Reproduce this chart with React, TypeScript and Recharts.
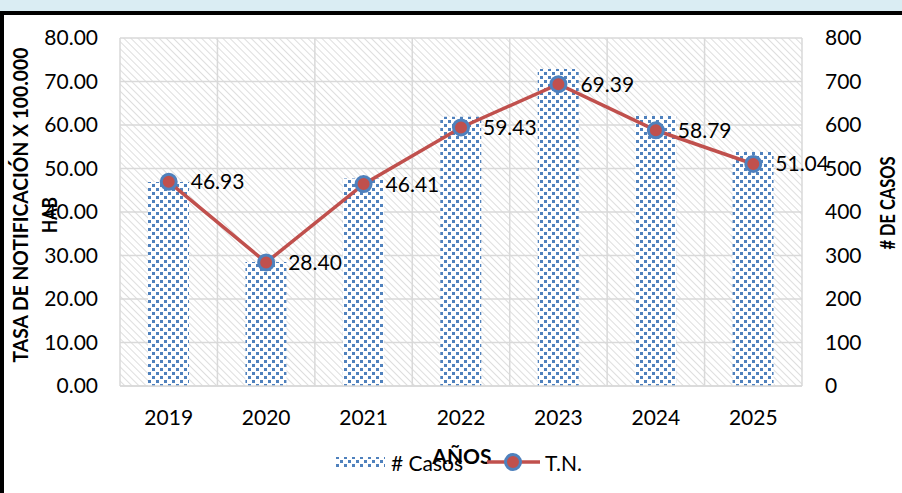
import React from 'react';
import {
  ComposedChart,
  Bar,
  Line,
  XAxis,
  YAxis,
  CartesianGrid,
  LabelList,
} from 'recharts';

const years = ['2019', '2020', '2021', '2022', '2023', '2024', '2025'];
const casos = [469, 285, 477, 619, 729, 621, 538];
const tasa = [46.93, 28.4, 46.41, 59.43, 69.39, 58.79, 51.04];
const leftTicks = [0, 10, 20, 30, 40, 50, 60, 70, 80];
const rightTicks = [0, 100, 200, 300, 400, 500, 600, 700, 800];

const data = years.map((year, i) => ({ year, casos: casos[i], tasa: tasa[i] }));

const FONT = 'Lato, "Open Sans", sans-serif';
const BLUE = '#4f81bd';
const RED = '#c0504d';
const GRID = '#d9d9d9';

const tickStyle = { fill: '#000', fontSize: 21, fontFamily: FONT };

function Marker(props: any) {
  const { cx, cy } = props;
  if (cx == null || cy == null) return null;
  return <circle cx={cx} cy={cy} r={7.5} fill={RED} stroke={BLUE} strokeWidth={3} />;
}

function LegendBox() {
  return (
    <g>
      <rect x={335} y={457} width={50} height={10} fill="url(#dots)" />
      <text x={391} y={462} dominantBaseline="central" fontSize={21} fontFamily={FONT} fill="#000">
        # Casos
      </text>
      <line x1={487} y1={462} x2={540} y2={462} stroke={RED} strokeWidth={3.5} />
      <circle cx={513} cy={462} r={7.5} fill={RED} stroke={BLUE} strokeWidth={3} />
      <text x={545} y={462} dominantBaseline="central" fontSize={21} fontFamily={FONT} fill="#000">
        T.N.
      </text>
    </g>
  );
}

export default function App() {
  return (
    <div
      style={{
        position: 'absolute',
        left: 0,
        top: 0,
        width: 902,
        height: 493,
        background: '#daedf3',
        overflow: 'hidden',
        fontFamily: FONT,
      }}
    >
      <div
        style={{
          position: 'absolute',
          left: 0,
          top: 11,
          width: 902,
          height: 482,
          background: '#fff',
          borderTop: '4px solid #000',
          borderLeft: '4px solid #000',
          boxSizing: 'border-box',
        }}
      />
      <div style={{ position: 'absolute', left: 0, top: 0 }}>
        <ComposedChart
          width={902}
          height={493}
          data={data}
          margin={{ top: 38, right: 40, bottom: 77, left: 60 }}
        >
          <defs>
            <pattern id="hatch" width={5} height={5} patternUnits="userSpaceOnUse" patternTransform="rotate(-45)">
              <rect width={5} height={5} fill="#fff" />
              <line x1={0} y1={0} x2={0} y2={5} stroke="#d6d6d6" strokeWidth={1.6} />
            </pattern>
            <pattern id="dots" width={8} height={8} patternUnits="userSpaceOnUse">
              <rect width={8} height={8} fill="#fff" />
              <rect x={0} y={0} width={3} height={3} fill={BLUE} />
              <rect x={4} y={4} width={3} height={3} fill={BLUE} />
            </pattern>
          </defs>
          <CartesianGrid
            yAxisId="left"
            fill="url(#hatch)"
            stroke={GRID}
            strokeWidth={1.5}
            verticalCoordinatesGenerator={({ offset }: any) =>
              years.map((_, i) => offset.left + (i * offset.width) / years.length).concat(offset.left + offset.width)
            }
          />
          <XAxis
            dataKey="year"
            tick={tickStyle}
            tickLine={false}
            axisLine={{ stroke: GRID, strokeWidth: 1.5 }}
            tickMargin={18}
            height={30}
          />
          <YAxis
            yAxisId="left"
            domain={[0, 80]}
            ticks={leftTicks}
            tickFormatter={(v: number) => v.toFixed(2)}
            tick={tickStyle}
            tickLine={false}
            axisLine={false}
            tickMargin={16}
            width={60}
          />
          <YAxis
            yAxisId="right"
            orientation="right"
            domain={[0, 800]}
            ticks={rightTicks}
            tick={tickStyle}
            tickLine={false}
            axisLine={false}
            tickMargin={17}
            width={60}
          />
          <Bar yAxisId="right" dataKey="casos" name="# Casos" fill="url(#dots)" barSize={41} isAnimationActive={false} />
          <Line
            yAxisId="left"
            dataKey="tasa"
            name="T.N."
            type="linear"
            stroke={RED}
            strokeWidth={3.5}
            dot={<Marker />}
            activeDot={false}
            isAnimationActive={false}
          >
            <LabelList
              dataKey="tasa"
              position="right"
              offset={22}
              formatter={(v: any) => Number(v).toFixed(2)}
              style={{ fill: '#000', fontSize: 21, fontFamily: FONT }}
            />
          </Line>
        </ComposedChart>
      </div>
      <svg width={902} height={493} style={{ position: 'absolute', left: 0, top: 0, pointerEvents: 'none' }}>
        <text
          transform="translate(20 205) rotate(-90)"
          textAnchor="middle"
          dominantBaseline="central"
          fontSize={20.5}
          fontWeight="bold"
          fontFamily={FONT}
          textLength={315}
          lengthAdjust="spacingAndGlyphs"
          fill="#000"
        >
          TASA DE NOTIFICACIÓN X 100.000
        </text>
        <text
          transform="translate(49 215) rotate(-90)"
          textAnchor="middle"
          dominantBaseline="central"
          fontSize={20.5}
          fontWeight="bold"
          fontFamily={FONT}
          textLength={36}
          lengthAdjust="spacingAndGlyphs"
          fill="#000"
        >
          HAB
        </text>
        <text
          transform="translate(887 203) rotate(-90)"
          textAnchor="middle"
          dominantBaseline="central"
          fontSize={20.5}
          fontWeight="bold"
          fontFamily={FONT}
          textLength={93}
          lengthAdjust="spacingAndGlyphs"
          fill="#000"
        >
          # DE CASOS
        </text>
        <text
          x={462}
          y={455}
          textAnchor="middle"
          dominantBaseline="central"
          fontSize={21}
          fontWeight="bold"
          fontFamily={FONT}
          fill="#000"
        >
          AÑOS
        </text>
        <LegendBox />
      </svg>
    </div>
  );
}
